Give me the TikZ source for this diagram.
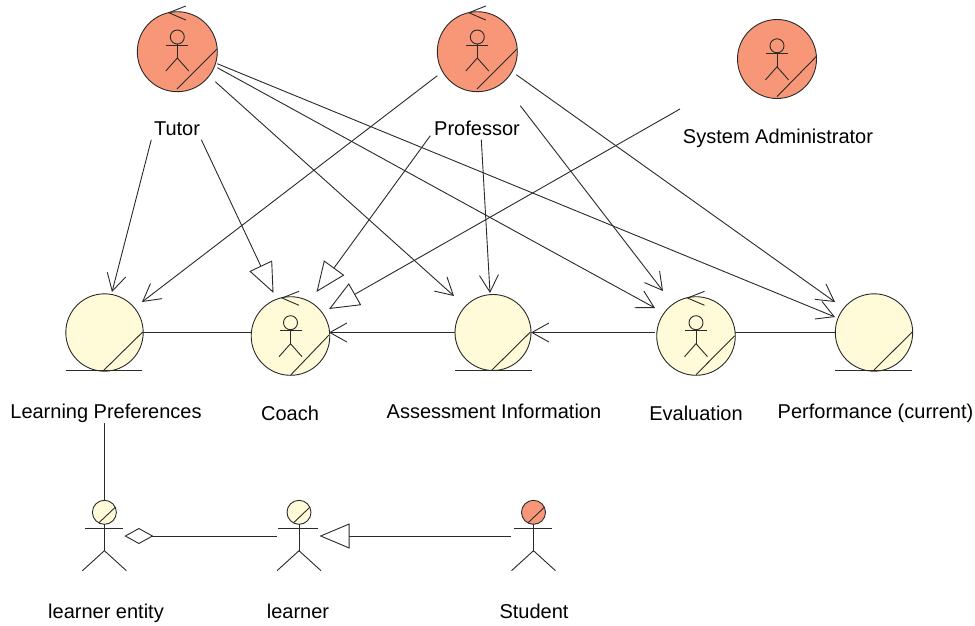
\documentclass[tikz,border=0pt]{standalone}
\usepackage{fontspec}
\setmainfont{Liberation Sans}
\usetikzlibrary{arrows.meta,calc}
\definecolor{salmonfill}{HTML}{F79778}
\definecolor{creamfill}{HTML}{FFFBD9}
\definecolor{inkline}{HTML}{2A2A2A}
\tikzset{
  base/.style={draw=inkline,line width=0.9pt},
  ball/.style={base,circle,inner sep=0pt,outer sep=0pt,minimum size=#1},
  label/.style={font=\fontsize{20pt}{22pt}\selectfont,text=black,inner sep=0pt,anchor=base},
  opencon/.style={base,-{Straight Barb[length=17pt,width=19pt,line width=0.9pt]}},
  hollowcon/.style={base,-{Triangle[open,fill=white,length=30pt,width=25pt,line width=0.9pt]}},
  plaincon/.style={base},
  aggcon/.style={base,-{Diamond[open,fill=white,length=29pt,width=16pt,line width=0.9pt]}}
}
\newcommand{\innerman}[2]{%
  \begin{scope}[shift={(#1)},yshift=-#2pt]
    \draw[base] (0,-14.7) circle (7);
    \draw[base] (-11,-6.7) -- (11,-6.7);
    \draw[base] (0,-7.7) -- (0,6.3);
    \draw[base] (-11.5,19.3) -- (0,6.3) -- (11.5,19.3);
  \end{scope}}
\newcommand{\chevronmark}[2]{%
  \begin{scope}[shift={(#1)},yshift=-#2pt]
    \draw[base] (8.5,-45.7) -- (-8.5,-39) -- (8.5,-31.7);
  \end{scope}}
\newcommand{\stickman}[4]{% head node, arm half left, arm half right, leg half
  \draw[base] ($(#1)+(-#2,15.7)$) -- ($(#1)+(#3,15.7)$);
  \draw[base] ($(#1)+(0,12)$) -- ($(#1)+(0,38.4)$);
  \draw[base] ($(#1)+(-#4,58.4)$) -- ($(#1)+(0,38.4)$) -- ($(#1)+(#4,58.4)$);
  \draw[base] ($(#1)+(-5.2,10.2)$) -- ($(#1)+(10.8,-5)$);}
\begin{document}
\begin{tikzpicture}[x=1pt,y=-1pt]
\useasboundingbox[fill=white] (0,0) rectangle (975,625);
% top circles
\node[ball=80pt,fill=salmonfill] (tutor) at (177.3,51.7) {};
\node[ball=80pt,fill=salmonfill] (prof) at (477.3,51.7) {};
\node[ball=79pt,fill=salmonfill] (admin) at (777,59) {};
% middle circles
\node[ball=77.4pt,fill=creamfill] (prefs) at (104.5,332.5) {};
\node[ball=78.6pt,fill=creamfill] (coach) at (290.5,336) {};
\node[ball=76pt,fill=creamfill] (assess) at (493,332.5) {};
\node[ball=78.6pt,fill=creamfill] (eval) at (696,336) {};
\node[ball=77.4pt,fill=creamfill] (perf) at (874,332.5) {};
% diagonals
\draw[base] ($(tutor)+(39.7,-2.7)$) -- ($(tutor)+(-0.3,37.3)$);
\draw[base] ($(prof)+(39.7,-2.7)$) -- ($(prof)+(-0.3,37.3)$);
\draw[base] ($(admin)+(39.3,-2.5)$) -- ($(admin)+(0,37.6)$);
\draw[base] ($(prefs)+(38.2,-0.5)$) -- ($(prefs)+(-0.5,37.5)$);
\draw[base] ($(coach)+(38.5,-1)$) -- ($(coach)+(0.2,39)$);
\draw[base] ($(assess)+(37.4,-0.5)$) -- ($(assess)+(-1,37.5)$);
\draw[base] ($(eval)+(38.7,-0.3)$) -- ($(eval)+(0,38.7)$);
\draw[base] ($(perf)+(38.2,-0.5)$) -- ($(perf)+(0,37.5)$);
% underlines
\draw[base] ($(prefs)+(-38.5,37.5)$) -- ($(prefs)+(37.5,37.5)$);
\draw[base] ($(assess)+(-38,37.5)$) -- ($(assess)+(39,37.5)$);
\draw[base] ($(perf)+(-39,37.5)$) -- ($(perf)+(38,37.5)$);
% glyphs
\innerman{tutor}{0}\innerman{prof}{0}\innerman{admin}{1.5}
\innerman{coach}{1.4}\innerman{eval}{1.4}
\chevronmark{tutor}{0}\chevronmark{prof}{0}
\chevronmark{coach}{1}\chevronmark{eval}{1}
% labels
\node[label] (ltutor) at (177,135) {Tutor};
\node[label] (lprof) at (477,135) {Professor};
\node[label] (ladmin) at (778,143) {System Administrator};
\node[label] (lprefs) at (106,418) {Learning Preferences};
\node[label] (lcoach) at (290,420) {Coach};
\node[label] (lassess) at (494,418) {Assessment Information};
\node[label] (leval) at (696,420) {Evaluation};
\node[label] (lperf) at (875.5,418) {Performance (current)};
\node[label] (lentity) at (106,618) {learner entity};
\node[label] (llearner) at (298,618) {learner};
\node[label] (lstudent) at (534,618) {Student};
% actors
\node[ball=24pt,fill=creamfill] (entity) at (104.4,512.3) {};
\node[ball=24pt,fill=creamfill] (learner) at (299,512.3) {};
\node[ball=24pt,fill=salmonfill] (student) at (533.5,512.3) {};
\stickman{entity}{19}{19}{22}
\stickman{learner}{21}{19}{22}
\stickman{student}{19.5}{18.5}{22}
% connectors from actors row
\draw[opencon] ($(tutor)+(-26,88)$) -- ($(prefs)+(7.5,-40.5)$);
\draw[hollowcon] ($(tutor)+(24,88)$) -- ($(coach)+(-17,-43)$);
\draw[opencon] ($(tutor)+(38,30)$) -- ($(assess)+(-39,-36.5)$);
\draw[opencon] ($(tutor)+(40,16)$) -- ($(eval)+(-41,-28)$);
\draw[opencon] ($(tutor)+(40,12)$) -- ($(perf)+(-39,-15.5)$);
\draw[opencon] ($(prof)+(-40,24)$) -- ($(prefs)+(37.5,-30.5)$);
\draw[hollowcon] ($(prof)+(-47,84)$) -- ($(coach)+(26,-44)$);
\draw[opencon] ($(prof)+(4,88)$) -- ($(assess)+(-3,-39.5)$);
\draw[opencon] ($(prof)+(43,54)$) -- ($(eval)+(-33,-45)$);
\draw[opencon] ($(prof)+(39,23)$) -- ($(perf)+(-39,-30.5)$);
\draw[hollowcon] ($(admin)+(-97,50)$) -- ($(coach)+(38.5,-27)$);
% horizontal
\draw[plaincon] (prefs.east) -- (coach.west |- prefs.east);
\draw[opencon] (assess.west) -- ($(coach)+(38.5,-3.5)$);
\draw[opencon] ($(eval)+(-41,-3.5)$) -- (assess.east);
\draw[plaincon] ($(eval)+(39,-3.5)$) -- (perf.west);
% lower
\draw[plaincon] ($(lprefs.base -| entity)+(0,5)$) -- (entity.north);
\draw[aggcon] ($(learner)+(-22,23.7)$) -- ($(entity)+(20,23.7)$);
\draw[hollowcon] ($(student)+(-22.5,23.7)$) -- ($(learner)+(20.5,23.7)$);
\end{tikzpicture}
\end{document}
